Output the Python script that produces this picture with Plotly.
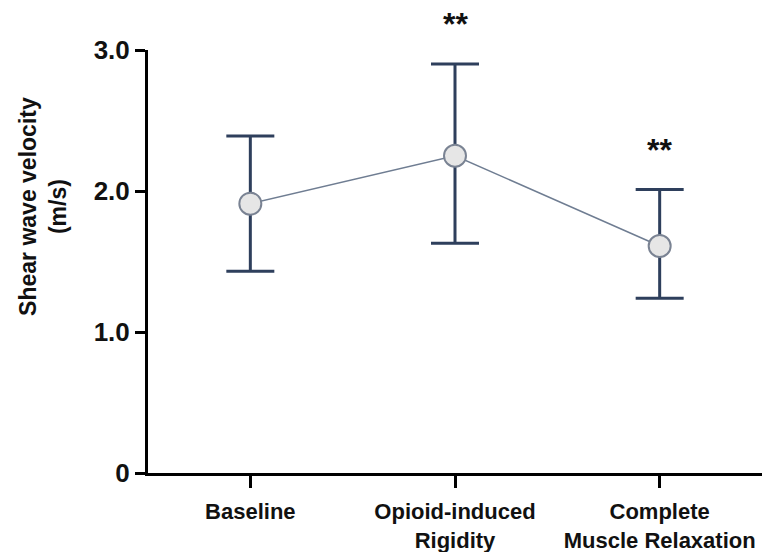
import plotly.graph_objects as go

# Shear wave velocity by condition (mean with error range, m/s)
conditions = ["Baseline", "Opioid-induced<br>Rigidity", "Complete<br>Muscle Relaxation"]
means = [1.91, 2.25, 1.61]
upper = [2.39, 2.90, 2.01]
lower = [1.43, 1.63, 1.24]
significance = ["", "**", "**"]

x_idx = list(range(len(conditions)))
err_plus = [u - m for u, m in zip(upper, means)]
err_minus = [m - l for m, l in zip(means, lower)]

FONT = "Arial, Liberation Sans, sans-serif"
NAVY = "#2e3f5c"

fig = go.Figure()

# Error bars
fig.add_trace(go.Scatter(
    x=x_idx, y=means, mode="markers",
    marker=dict(size=1, color="rgba(0,0,0,0)"),
    error_y=dict(type="data", symmetric=False, array=err_plus, arrayminus=err_minus,
                 color=NAVY, thickness=3, width=24),
    hoverinfo="skip", showlegend=False,
))

# Mean line with markers
fig.add_trace(go.Scatter(
    x=x_idx, y=means, mode="lines+markers",
    line=dict(color="#6f7d92", width=1.5),
    marker=dict(size=22, color="#e6e6e6", line=dict(color="#7a8393", width=2)),
    showlegend=False,
))

# Significance markers above the upper bar
for xi, up, s in zip(x_idx, upper, significance):
    if s:
        fig.add_annotation(x=xi, y=up, text=f"<b>{s}</b>", showarrow=False, yanchor="bottom",
                           yshift=20, font=dict(family=FONT, size=32, color="#111111"))

# Y-axis title
fig.add_annotation(xref="paper", yref="paper", x=-0.172, y=0.63,
                   xanchor="center", yanchor="middle",
                   text="<b>Shear wave velocity<br>(m/s)</b>", textangle=-90,
                   showarrow=False, font=dict(family=FONT, size=23, color="#111111"))

fig.update_layout(
    width=769, height=552,
    margin=dict(l=148, r=7, t=50, b=79),
    paper_bgcolor="white", plot_bgcolor="white",
    font=dict(family=FONT, color="#111111"),
    xaxis=dict(
        range=[-0.5, 2.5], tickmode="array", tickvals=x_idx,
        ticktext=[f"<b>{c}</b>" for c in conditions],
        showline=True, linecolor="black", linewidth=3,
        ticks="outside", ticklen=12, tickwidth=3, tickcolor="black",
        showgrid=False, zeroline=False, ticklabelstandoff=5, automargin=False,
        tickfont=dict(family=FONT, size=22, color="#111111"),
    ),
    yaxis=dict(
        range=[0, 3.0], tickmode="array", tickvals=[0, 1, 2, 3],
        ticktext=["<b>0</b>", "<b>1.0</b>", "<b>2.0</b>", "<b>3.0</b>"],
        showline=True, linecolor="black", linewidth=3,
        ticks="outside", ticklen=10, tickwidth=3, tickcolor="black",
        showgrid=False, zeroline=False, ticklabelstandoff=0, automargin=False,
        tickfont=dict(family=FONT, size=26, color="#111111"),
    ),
)

fig.write_html("out.html")
